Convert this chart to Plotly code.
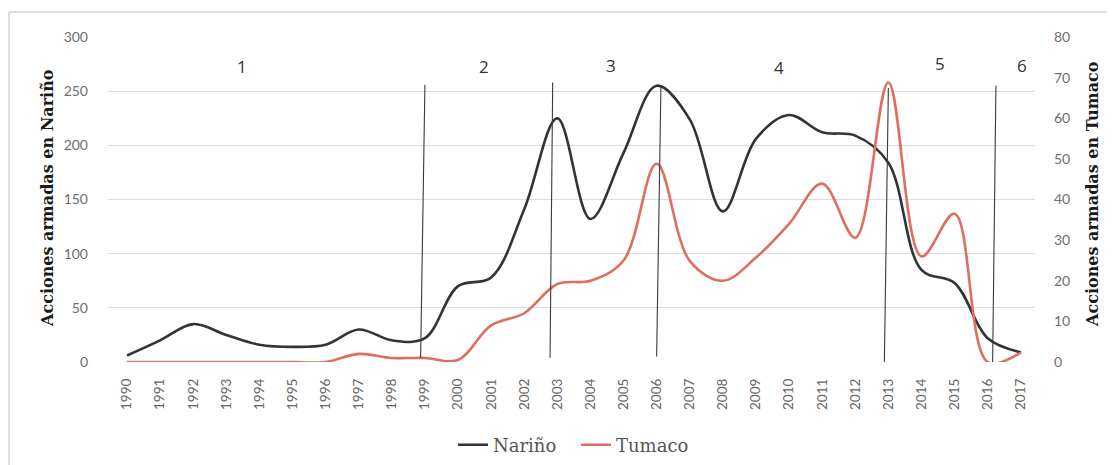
import plotly.graph_objects as go

# ---------------- data ----------------
years = list(range(1990, 2018))
narino = [6, 20, 35, 25, 16, 14, 16, 30, 20, 22, 70, 78, 141, 225, 132, 193, 255, 224,
          139, 206, 228, 212, 209, 184, 85, 73, 22, 9]
tumaco = [0, 0, 0, 0, 0, 0, 0, 2, 1, 1, 0.5, 9, 12, 19.2, 20, 25, 48.8, 24.9,
          20, 25.7, 34, 43.9, 30.6, 68.8, 26, 36.5, 0, 2.3]

# period dividers (x in years, y in Nariño units)
divider_x_top = [1999.0, 2002.86, 2006.13, 2013.0, 2016.25]
divider_x_bottom = [1998.87, 2002.78, 2006.0, 2012.88, 2016.15]
divider_y_top = [256, 258, 255, 253, 255]
divider_y_bottom = [4, 4, 5, 0, 0]

period_labels = ["1", "2", "3", "4", "5", "6"]
period_label_x = [1993.47, 2000.79, 2004.62, 2009.7, 2014.56, 2017.04]
period_label_y = [273, 273, 274, 272, 276, 274]

left_title = "Acciones armadas en Nariño"
right_title = "Acciones armadas en Tumaco"

# ---------------- figure ----------------
OFF = 8                       # default body margin of the html page
W, H = 1115 - OFF, 465 - OFF
ML, MT = 108 - OFF, 37 - OFF
MR = W - (1035 - OFF)
MB = H - (362 - OFF)
PW, PH = W - ML - MR, H - MT - MB

def px_x(p):
    return (p - OFF - ML) / PW

def px_y(p):
    return (H - MB - (p - OFF)) / PH

fig = go.Figure()

fig.add_trace(go.Scatter(
    x=years, y=narino, name="Nariño", mode="lines",
    line=dict(color="#333333", width=2.6, shape="spline", smoothing=1.0),
    yaxis="y"))
fig.add_trace(go.Scatter(
    x=years, y=tumaco, name="Tumaco", mode="lines",
    line=dict(color="#dc6f5e", width=2.6, shape="spline", smoothing=1.0),
    yaxis="y2"))

for xt, xb, yt, yb in zip(divider_x_top, divider_x_bottom, divider_y_top, divider_y_bottom):
    fig.add_shape(type="line", xref="x", yref="y", x0=xb, y0=yb, x1=xt, y1=yt,
                  line=dict(color="#3a3a3a", width=1.1))

for t, xv, yv in zip(period_labels, period_label_x, period_label_y):
    fig.add_annotation(x=xv, y=yv, xref="x", yref="y", text=t, showarrow=False,
                       font=dict(family="Open Sans", size=17, color="#333333"))

# axis titles
fig.add_annotation(x=px_x(47), y=px_y(198), xref="paper", yref="paper", text=left_title,
                   textangle=-90, showarrow=False, xanchor="center", yanchor="middle",
                   font=dict(family="DejaVu Serif", size=16, color="#1a1a1a", weight="bold"))
fig.add_annotation(x=px_x(1092), y=px_y(194), xref="paper", yref="paper", text=right_title,
                   textangle=-90, showarrow=False, xanchor="center", yanchor="middle",
                   font=dict(family="DejaVu Serif", size=16, color="#1a1a1a", weight="bold"))

# outer frame (top and left)
fig.add_shape(type="line", xref="paper", yref="paper", x0=px_x(9), x1=px_x(1115),
              y0=px_y(12), y1=px_y(12), line=dict(color="#dedede", width=2))
fig.add_shape(type="line", xref="paper", yref="paper", x0=px_x(9), x1=px_x(9),
              y0=px_y(12), y1=px_y(465), line=dict(color="#dedede", width=2))

tick_font = dict(family="Lato", size=14, color="#6e6e6e")

fig.update_layout(
    width=W, height=H,
    margin=dict(l=ML, r=MR, t=MT, b=MB, autoexpand=False),
    paper_bgcolor="white", plot_bgcolor="white",
    showlegend=True,
    legend=dict(orientation="h", xref="container", yref="container",
                x=(576 - OFF) / W, y=1 - (445 - OFF) / H, xanchor="center", yanchor="middle",
                font=dict(family="DejaVu Serif", size=18, color="#555555"),
                itemwidth=30, entrywidth=78, entrywidthmode="pixels",
                tracegroupgap=0, bgcolor="rgba(0,0,0,0)"),
    xaxis=dict(range=[1989.426, 2017.43], tickmode="array", tickvals=years,
               ticktext=[str(y) for y in years], tickangle=-90, showgrid=False,
               zeroline=False, showline=False, ticks="", automargin=False,
               tickfont=dict(family="Lato", size=13.5, color="#666666"),
               ticklabelstandoff=13, fixedrange=True),
    yaxis=dict(range=[0, 300], dtick=50, showgrid=True, gridcolor="#dcdcdc", gridwidth=1.3,
               zeroline=False, showline=False, ticks="", tickfont=tick_font, automargin=False,
               ticklabelstandoff=19),
    yaxis2=dict(range=[0, 80], dtick=10, overlaying="y", side="right", showgrid=False,
                zeroline=False, showline=False, ticks="", tickfont=tick_font, automargin=False,
                ticklabelstandoff=18),
)

fig.write_html("out.html")
